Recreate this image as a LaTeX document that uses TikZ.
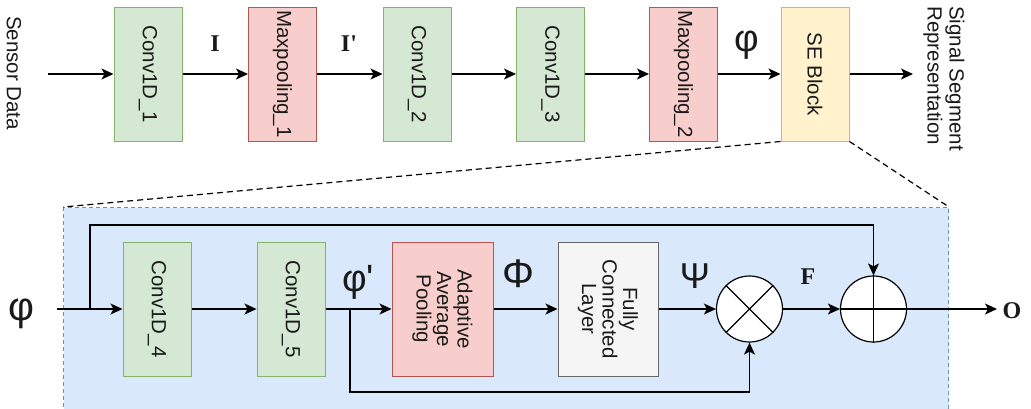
\documentclass[tikz,border=0pt]{standalone}
\usepackage{fontspec}
\setmainfont{Liberation Sans}
\newfontfamily\serifb{Liberation Serif}
\usetikzlibrary{arrows.meta}
\definecolor{gfill}{HTML}{D5E8D4}\definecolor{gline}{HTML}{82B366}
\definecolor{rfill}{HTML}{F8CECC}\definecolor{rline}{HTML}{B85450}
\definecolor{yfill}{HTML}{FFF2CC}\definecolor{yline}{HTML}{D6B656}
\definecolor{wfill}{HTML}{F5F5F5}\definecolor{wline}{HTML}{666666}
\definecolor{bfill}{HTML}{DAE8FC}\definecolor{bline}{HTML}{6C8EBF}
\definecolor{txt}{HTML}{1A1A1A}
\begin{document}
\begin{tikzpicture}[x=1pt,y=-1pt,
  box/.style={draw, line width=1pt, minimum width=68pt, minimum height=134pt, inner sep=0pt},
  gbox/.style={box, fill=gfill, draw=gline},
  rbox/.style={box, fill=rfill, draw=rline},
  ybox/.style={box, fill=yfill, draw=yline},
  wbox/.style={box, fill=wfill, draw=wline},
  lbl/.style={rotate=-90, font=\fontsize{20.5}{20.5}\selectfont, text=txt, align=center, inner sep=0pt},
  greek/.style={font=\fontsize{38}{38}\selectfont, text=txt, inner sep=0pt},
  bold/.style={font=\serifb\bfseries\fontsize{24}{24}\selectfont, text=txt, inner sep=0pt},
  arr/.style={line width=1.2pt, -{Stealth[length=12pt, width=11pt, inset=3pt]}},
  op/.style={circle, draw, line width=1.2pt, fill=white, minimum size=66pt, inner sep=0pt},
  conn/.style={line width=1.2pt, dash pattern=on 6pt off 4pt}]
\path[use as bounding box, fill=white] (0,0) rectangle (1031,408);

% top row
\node[gbox] (c1) at (148,74) {};
\node[rbox] (m1) at (282.5,74) {};
\node[gbox] (c2) at (417,74) {};
\node[gbox] (c3) at (550.5,74) {};
\node[rbox] (m2) at (683.5,74) {};
\node[ybox] (se) at (815,74) {};
\node[lbl] at (c1) {Conv1D\_1};
\node[lbl] at (m1) {Maxpooling\_1};
\node[lbl] at (c2) {Conv1D\_2};
\node[lbl] at (c3) {Conv1D\_3};
\node[lbl] at (m2) {Maxpooling\_2};
\node[lbl] at (se) {SE Block};
\node[lbl] (sd) at (14,73) {Sensor Data};
\node[lbl, anchor=west, align=left, font=\fontsize{20.5}{22}\selectfont] (ssr) at (944,6) {Signal Segment\\Representation};
\coordinate (tin) at (48,74);
\coordinate (tout) at (913,74);
\draw[arr] (tin) -- (c1);
\draw[arr] (c1) -- (m1);
\draw[arr] (m1) -- (c2);
\draw[arr] (c2) -- (c3);
\draw[arr] (c3) -- (m2);
\draw[arr] (m2) -- (se);
\draw[arr] (se) -- (tout);
\node[bold] (lI) at (215,44) {I};
\node[bold] (lIp) at (349,44) {I\textquotesingle};
\node[greek] (lphi) at (747,45) {φ};

% panel
\node[draw=bline, fill=bfill, line width=1pt, dash pattern=on 4pt off 3pt, minimum width=885pt, minimum height=240pt, inner sep=0pt, anchor=north west] (panel) at (63,207) {};
\draw[conn] (se.south west) -- (panel.north west);
\draw[conn] (se.south east) -- (panel.north east);

% lower row
\node[gbox] (c4) at (157,309) {};
\node[gbox] (c5) at (291,309) {};
\node[rbox, minimum width=101pt] (aap) at (442.5,309) {};
\node[wbox, minimum width=100pt] (fc) at (608,309) {};
\node[lbl] at (c4) {Conv1D\_4};
\node[lbl] at (c5) {Conv1D\_5};
\node[lbl] at (aap) {Adaptive\\Average\\Pooling};
\node[lbl] at (fc) {Fully\\Connected\\Layer};
\node[op] (mul) at (749.5,309) {};
\node[op] (plus) at (873.5,309) {};
\draw[line width=1.2pt] (mul.north east) -- (mul.south west) (mul.north west) -- (mul.south east);
\draw[line width=1.2pt] (plus.north) -- (plus.south) (plus.west) -- (plus.east);

\coordinate (lin) at (57,309);
\coordinate (sp1) at (90,309);
\coordinate (byp) at (90,225);
\coordinate (sp2) at (350,309);
\coordinate (bot) at (350,392);
\coordinate (lout) at (997,309);
\draw[arr] (lin) -- (c4);
\draw[arr] (sp1) -- (byp) -| (plus.north);
\draw[arr] (c4) -- (c5);
\draw[arr] (c5) -- (aap);
\draw[arr] (sp2) -- (bot) -| (mul.south);
\draw[arr] (aap) -- (fc);
\draw[arr] (fc) -- (mul);
\draw[arr] (mul) -- (plus);
\draw[arr] (plus) -- (lout);

\node[greek, font=\fontsize{40}{40}\selectfont] (lphi2) at (21,314) {φ};
\node[greek] (lphip) at (358,282) {φ\textquotesingle};
\node[greek, font=\fontsize{40}{40}\selectfont] (lPhi) at (518,274) {Φ};
\node[greek, font=\fontsize{36}{36}\selectfont] (lPsi) at (695,276) {Ψ};
\node[bold] (lF) at (808,277) {F};
\node[bold] (lO) at (1012,311) {O};
\end{tikzpicture}
\end{document}
